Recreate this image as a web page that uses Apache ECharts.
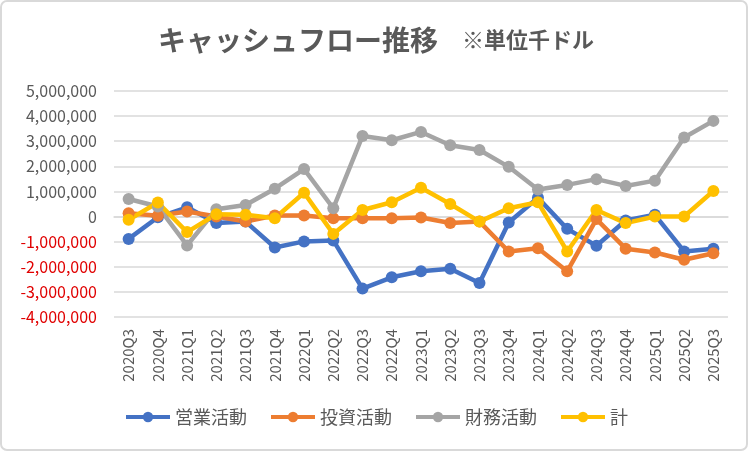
<!DOCTYPE html>
<html>
<head>
<meta charset="utf-8">
<script src="https://cdn.jsdelivr.net/npm/echarts@6/dist/echarts.min.js"></script>
<style>
  html, body { margin: 0; padding: 0; background: #fff; }
  #chart { width: 752px; height: 452px; }
</style>
</head>
<body>
<div id="chart"></div>
<script>
let quarters = ['2020Q3', '2020Q4', '2021Q1', '2021Q2', '2021Q3', '2021Q4', '2022Q1', '2022Q2', '2022Q3', '2022Q4',
    '2023Q1', '2023Q2', '2023Q3', '2023Q4', '2024Q1', '2024Q2', '2024Q3', '2024Q4', '2025Q1', '2025Q2', '2025Q3'];
// 単位: 千ドル
let operating = [-890000, -30000, 370000, -260000, -200000, -1230000, -990000, -950000, -2870000, -2420000,
    -2180000, -2080000, -2650000, -240000, 750000, -490000, -1160000, -160000, 70000, -1390000, -1280000];
let investing = [130000, 30000, 200000, 0, -200000, 40000, 40000, -70000, -70000, -70000,
    -40000, -260000, -200000, -1390000, -1260000, -2180000, -100000, -1280000, -1430000, -1720000, -1460000];
let financing = [700000, 400000, -1150000, 290000, 460000, 1110000, 1890000, 330000, 3210000, 3040000,
    3370000, 2840000, 2650000, 1980000, 1080000, 1260000, 1490000, 1220000, 1430000, 3150000, 3810000];
let total = [-130000, 560000, -620000, 90000, 70000, -70000, 950000, -690000, 260000, 570000,
    1150000, 500000, -200000, 330000, 570000, -1390000, 260000, -260000, 0, 0, 1020000];
let seriesNames = ['営業活動', '投資活動', '財務活動', '計'];
let seriesColors = ['#4472C4', '#ED7D31', '#A5A5A5', '#FFC000'];

let chart = echarts.init(document.getElementById('chart'));
let font = '"Noto Sans CJK JP", "Noto Sans", sans-serif';

function makeLine(name, data, color) {
    return {
        name: name,
        type: 'line',
        data: data,
        symbol: 'circle',
        symbolSize: 12,
        lineStyle: { width: 4.5, color: color },
        itemStyle: { color: color },
        emphasis: { disabled: true }
    };
}

let options = {
    backgroundColor: '#fff',
    animation: false,
    title: {
        text: '{a|キャッシュフロー推移}{b|※単位千ドル}',
        left: 'center',
        top: 21,
        textStyle: {
            rich: {
                a: { fontFamily: font, fontSize: 28, fontWeight: 'bold', color: '#595959' },
                b: { fontFamily: font, fontSize: 22, fontWeight: 'bold', color: '#595959', padding: [0, 0, 0, 24] }
            }
        }
    },
    graphic: [{
        type: 'rect',
        shape: { x: 1, y: 1, width: 746, height: 449, r: 6 },
        style: { fill: 'none', stroke: '#D9D9D9', lineWidth: 2 },
        silent: true
    }],
    legend: {
        bottom: 21,
        left: 'center',
        itemWidth: 44,
        itemHeight: 13,
        itemGap: 22,
        lineStyle: { width: 4 },
        textStyle: { fontFamily: font, fontSize: 18, color: '#595959' },
        data: seriesNames
    },
    grid: {
        left: 114,
        right: 24,
        top: 91,
        bottom: 135,
        containLabel: false
    },
    xAxis: {
        type: 'category',
        data: quarters,
        boundaryGap: true,
        axisLine: { lineStyle: { color: '#D9D9D9', width: 1.5 } },
        axisTick: { show: false },
        axisLabel: {
            rotate: 90,
            interval: 0,
            margin: 12,
            fontFamily: font,
            fontSize: 15,
            color: '#595959'
        }
    },
    yAxis: {
        type: 'value',
        min: -4000000,
        max: 5000000,
        interval: 1000000,
        axisLine: { show: false },
        axisTick: { show: false },
        splitLine: { lineStyle: { color: '#D9D9D9', width: 1.5 } },
        axisLabel: {
            margin: 17,
            fontFamily: font,
            fontSize: 16,
            color: function (value) {
                return value < 0 ? '#E00000' : '#595959';
            },
            formatter: function (value) {
                return value.toLocaleString('en-US');
            }
        }
    },
    series: [
        makeLine(seriesNames[0], operating, seriesColors[0]),
        makeLine(seriesNames[1], investing, seriesColors[1]),
        makeLine(seriesNames[2], financing, seriesColors[2]),
        makeLine(seriesNames[3], total, seriesColors[3])
    ]
};
chart.setOption(options);
</script>
</body>
</html>
